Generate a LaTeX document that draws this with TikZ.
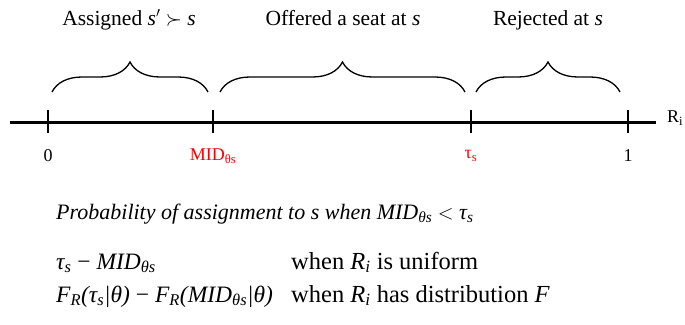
\documentclass[tikz,border=0pt]{standalone}
\usepackage{fontspec}
\setmainfont{Liberation Serif}
\usetikzlibrary{decorations.pathreplacing}
\definecolor{redlab}{RGB}{255,0,0}
\tikzset{
  axis/.style={line width=3pt},
  tick/.style={line width=2pt},
  brc/.style={decorate,decoration={brace,amplitude=30pt},line width=1.3pt},
  title/.style={font=\fontsize{21.5}{24}\selectfont,inner sep=0pt,anchor=base},
  lab/.style={font=\fontsize{18}{20}\selectfont,inner sep=0pt},
  txt/.style={font=\fontsize{22}{24}\selectfont,inner sep=0pt,anchor=base west},
  frm/.style={font=\fontsize{23.5}{26}\selectfont,inner sep=0pt,anchor=base west},
  cond/.style={font=\fontsize{24.5}{28}\selectfont,inner sep=0pt,anchor=base west}
}
\newcommand{\mi}[1]{\textit{#1}}
\begin{document}
\begin{tikzpicture}[x=1pt,y=-1pt]
\useasboundingbox (0,0) rectangle (685,324);
% axis
\coordinate (aL) at (10,122);
\coordinate (aR) at (656,122);
\draw[axis] (aL) -- (aR);
\foreach \n/\x in {t0/48,t1/213,t2/471,t3/628}{
  \coordinate (\n a) at (\x,110);
  \coordinate (\n b) at (\x,133);
  \draw[tick] (\n a) -- (\n b);
}
\node[lab,anchor=west] (ri) at (667,118) {R\textsubscript{i}};
\node[lab] (l0) at (48,156) {0};
\node[lab,text=redlab] (l1) at (213,156) {MID\textsubscript{θs}};
\node[lab,text=redlab] (l2) at (471,156) {τ\textsubscript{s}};
\node[lab] (l3) at (628,156) {1};
% braces
\coordinate (b1a) at (52,92); \coordinate (b1b) at (208,92);
\coordinate (b2a) at (220,92); \coordinate (b2b) at (465,92);
\coordinate (b3a) at (476,92); \coordinate (b3b) at (620,92);
\draw[brc] (b1a) -- (b1b);
\draw[brc] (b2a) -- (b2b);
\draw[brc] (b3a) -- (b3b);
% titles
\node[title] (h1) at (129,25) {Assigned \mi{s}$'$ $\succ$ \mi{s}};
\node[title] (h2) at (343,25) {Offered a seat at \mi{s}};
\node[title] (h3) at (548,25) {Rejected at \mi{s}};
% bottom text
\node[txt] (p) at (56,219) {\itshape Probability of assignment to s when MID\textsubscript{θs} $<$ τ\textsubscript{s}};
\node[frm] (e1) at (56,269) {\itshape τ\textsubscript{s} \upshape − \itshape MID\textsubscript{θs}};
\node[cond] (w1) at (291,269) {when \mi{R\textsubscript{i}} is uniform};
\node[frm] (e2) at (56,302) {\itshape F\textsubscript{R}(τ\textsubscript{s}|θ) \upshape − \itshape F\textsubscript{R}(MID\textsubscript{θs}|θ)};
\node[cond] (w2) at (291,302) {when \mi{R\textsubscript{i}} has distribution \mi{F}};
\end{tikzpicture}
\end{document}
